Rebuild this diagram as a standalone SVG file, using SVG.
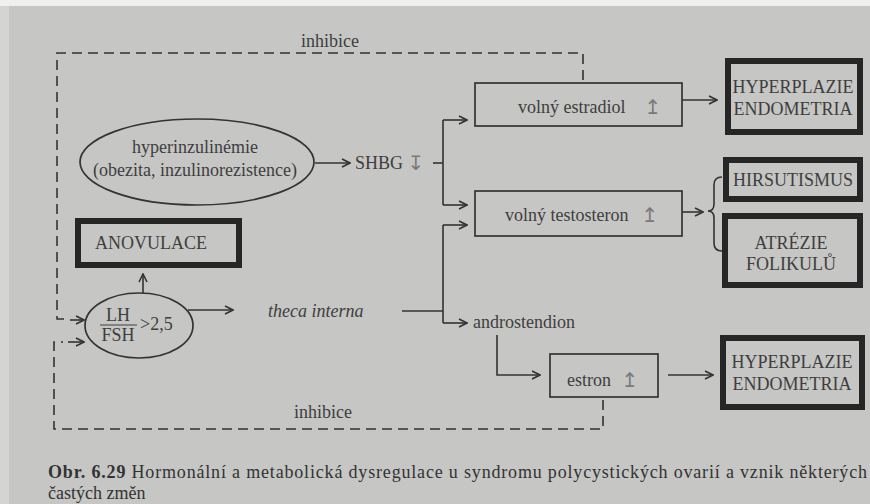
<svg xmlns="http://www.w3.org/2000/svg" width="870" height="504" viewBox="0 0 870 504">
<style>
.t{font-family:"Liberation Serif","Times New Roman",serif;font-size:18px;fill:#3e3e3e}
.c{text-anchor:middle}
.it{font-style:italic}
.sym{font-family:"DejaVu Sans",sans-serif;font-size:20px;fill:#7a7a7a;text-anchor:middle}
.thin{fill:none;stroke:#333;stroke-width:1.7}
.thick{fill:none;stroke:#262626;stroke-width:6}
.ln{fill:none;stroke:#333;stroke-width:1.6}
.dash{fill:none;stroke:#333;stroke-width:1.6;stroke-dasharray:10 6}
.ar{marker-end:url(#arr)}
</style>
<defs>
<marker id="arr" viewBox="0 0 10 10" refX="9" refY="5" markerWidth="10" markerHeight="10" markerUnits="userSpaceOnUse" orient="auto">
<path d="M1,1 L9,5 L1,9" fill="none" stroke="#333" stroke-width="1.6"/>
</marker>
</defs>
<rect x="0" y="0" width="870" height="504" fill="#c6c6c4"/>
<rect x="0" y="0" width="870" height="6" fill="#f0f0f0"/>
<rect x="0" y="6" width="9" height="498" fill="#d4d4d2"/>

<g id="connectors">
<path class="dash" d="M583,80 L583,53 L57,53 L57,319 L65,319"/>
<path class="dash" d="M603,400 L603,429 L54,429 L54,342 L63,342"/>
<line class="ln ar" x1="70" y1="320" x2="84" y2="320"/>
<line class="ln ar" x1="68" y1="342" x2="84" y2="342"/>
<line class="ln ar" x1="143" y1="293" x2="143" y2="274"/>
<line class="ln ar" x1="188" y1="310" x2="233" y2="310"/>
<line class="ln" x1="402" y1="311" x2="443" y2="311"/>
<path class="ln" d="M443,225 L443,323"/>
<line class="ln ar" x1="443" y1="225" x2="467" y2="225"/>
<line class="ln ar" x1="443" y1="323" x2="467" y2="323"/>
<line class="ln ar" x1="315" y1="163" x2="350" y2="163"/>
<line class="ln" x1="433" y1="163" x2="443" y2="163"/>
<path class="ln" d="M443,120 L443,205"/>
<line class="ln ar" x1="443" y1="120" x2="467" y2="120"/>
<line class="ln ar" x1="443" y1="205" x2="467" y2="205"/>
<line class="ln ar" x1="682" y1="100" x2="717" y2="100"/>
<line class="ln ar" x1="682" y1="212" x2="703" y2="212"/>
<path class="ln" d="M722,177 Q714,177 714,185 L714,204 Q714,211 708,211 Q714,211 714,218 L714,243 Q714,251 722,251"/>
<path class="ln ar" d="M497,335 L497,375 L540,375"/>
<line class="ln ar" x1="668" y1="375" x2="713" y2="375"/>
</g>

<g id="label-inhibice-top"><text class="t c" x="330" y="47">inhibice</text></g>
<g id="label-inhibice-bottom"><text class="t c" x="323" y="418">inhibice</text></g>

<g id="hyperinzulinemie">
<ellipse class="thin" cx="197" cy="162" rx="117" ry="43"/>
<text class="t c" x="195" y="153">hyperinzulinémie</text>
<text class="t c" x="195" y="176">(obezita, inzulinorezistence)</text>
</g>

<g id="shbg">
<text class="t" x="355" y="169">SHBG</text>
<text class="sym" x="416" y="170">↧</text>
</g>

<g id="volny-estradiol">
<rect class="thin" x="475" y="83" width="207" height="43"/>
<text class="t" x="518" y="113">volný estradiol</text>
<text class="sym" x="653" y="114">↥</text>
</g>

<g id="volny-testosteron">
<rect class="thin" x="475" y="191" width="207" height="45"/>
<text class="t" x="505" y="221">volný testosteron</text>
<text class="sym" x="650" y="222">↥</text>
</g>

<g id="anovulace">
<rect class="thick" x="78" y="221" width="161" height="44"/>
<text class="t" x="95" y="249">ANOVULACE</text>
</g>

<g id="lh-fsh">
<ellipse class="thin" cx="139" cy="325.5" rx="54" ry="32.5"/>
<text class="t c" x="118" y="321">LH</text>
<line x1="100" y1="325" x2="137" y2="325" stroke="#3e3e3e" stroke-width="1.2"/>
<text class="t c" x="118" y="341">FSH</text>
<text class="t" x="140" y="330">&gt;2,5</text>
</g>

<g id="theca-interna"><text class="t it" x="268" y="317">theca interna</text></g>

<g id="androstendion"><text class="t" x="473" y="328">androstendion</text></g>

<g id="estron">
<rect class="thin" x="550" y="354" width="108" height="43"/>
<text class="t" x="567" y="386">estron</text>
<text class="sym" x="630" y="387">↥</text>
</g>

<g id="hyperplazie-1">
<rect class="thick" x="728" y="61" width="132" height="71"/>
<text class="t c" x="793" y="93">HYPERPLAZIE</text>
<text class="t c" x="793" y="115">ENDOMETRIA</text>
</g>

<g id="hirsutismus">
<rect class="thick" x="726" y="160" width="134" height="39"/>
<text class="t c" x="793" y="186">HIRSUTISMUS</text>
</g>

<g id="atrezie">
<rect class="thick" x="725" y="216" width="135" height="69"/>
<text class="t c" x="791" y="249">ATRÉZIE</text>
<text class="t c" x="791" y="270">FOLIKULŮ</text>
</g>

<g id="hyperplazie-2">
<rect class="thick" x="723" y="338" width="139" height="69"/>
<text class="t c" x="792" y="368">HYPERPLAZIE</text>
<text class="t c" x="792" y="390">ENDOMETRIA</text>
</g>

<g id="caption">
<text class="t" x="48" y="478" textLength="819" lengthAdjust="spacing" style="fill:#333"><tspan font-weight="bold">Obr. 6.29</tspan> Hormonální a metabolická dysregulace u syndromu polycystických ovarií a vznik některých</text>
<text class="t" x="48" y="499" style="fill:#333">častých změn</text>
</g>
</svg>
